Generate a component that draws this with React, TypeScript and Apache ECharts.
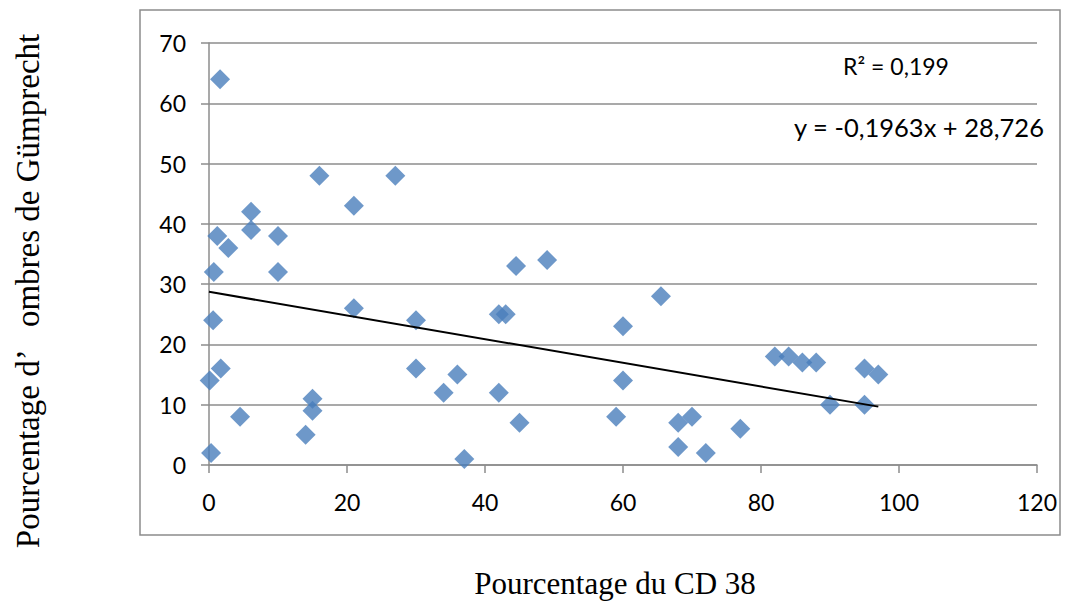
import React, { useEffect, useRef } from "react";
import * as echarts from "echarts";

const cd38: number[] = [0.3, 0.1, 0.6, 0.7, 1.2, 1.6, 1.7, 2.8, 4.5, 6.1, 6.1, 10, 10, 14, 15, 15, 16, 21, 21, 27, 30, 30, 34, 36, 37, 42, 42, 43, 44.5, 45, 49, 59, 60, 60, 65.5, 68, 68, 70, 72, 77, 82, 84, 86, 88, 90, 95, 95, 97];
const gumprecht: number[] = [2, 14, 24, 32, 38, 64, 16, 36, 8, 42, 39, 38, 32, 5, 9, 11, 48, 43, 26, 48, 24, 16, 12, 15, 1, 12, 25, 25, 33, 7, 34, 8, 23, 14, 28, 7, 3, 8, 2, 6, 18, 18, 17, 17, 10, 16, 10, 15];
const slope = -0.1963;
const intercept = 28.726;
const xTicks = [0, 20, 40, 60, 80, 100, 120];
const yTicks = [0, 10, 20, 30, 40, 50, 60, 70];
const r2Label = "R² = 0,199";
const eqLabel = "y = -0,1963x + 28,726";
const xTitle = "Pourcentage du CD 38";
const yTitle = "Pourcentage d’   ombres de Gümprecht";

export default function App() {
  const ref = useRef<HTMLDivElement>(null);
  useEffect(() => {
    if (!ref.current) return;
    const chart = echarts.init(ref.current, undefined, { renderer: "svg" });
    const xStart = 0;
    const xEnd = Math.max(...cd38);
    const trend = [
      [xStart, slope * xStart + intercept],
      [xEnd, slope * xEnd + intercept],
    ];
    const gridColor = "#8c8c8c";
    chart.setOption({
      animation: false,
      backgroundColor: "#ffffff",
      grid: { left: 209, right: 39, top: 43, bottom: 137, containLabel: false },
      xAxis: {
        type: "value",
        min: xTicks[0],
        max: xTicks[xTicks.length - 1],
        interval: 20,
        axisLine: { show: true, onZero: false, lineStyle: { color: gridColor, width: 1.5 } },
        axisTick: { show: true, length: 8, lineStyle: { color: gridColor, width: 1.5 } },
        splitLine: { show: false },
        axisLabel: { color: "#000", fontFamily: "Lato", fontSize: 23, margin: 25 },
      },
      yAxis: {
        type: "value",
        min: yTicks[0],
        max: yTicks[yTicks.length - 1],
        interval: 10,
        axisLine: { show: true, lineStyle: { color: gridColor, width: 1.5 } },
        axisTick: { show: true, length: 8, lineStyle: { color: gridColor, width: 1.5 } },
        splitLine: { show: true, lineStyle: { color: gridColor, width: 1.5 } },
        axisLabel: { color: "#000", fontFamily: "Lato", fontSize: 23, margin: 23 },
      },
      series: [
        {
          type: "scatter",
          symbol: "diamond",
          symbolSize: 20,
          itemStyle: { color: "#4a7ebb" },
          data: cd38.map((x, i) => [x, gumprecht[i]]),
          z: 3,
        },
        {
          type: "line",
          data: trend,
          symbol: "none",
          lineStyle: { color: "#000", width: 2 },
          z: 4,
        },
      ],
      graphic: [
        {
          type: "rect",
          shape: { x: 140, y: 10, width: 920, height: 525 },
          style: { fill: "none", stroke: "#8c8c8c", lineWidth: 1.5 },
          silent: true,
        },
        {
          type: "text",
          x: 896,
          y: 66,
          style: { text: r2Label, fontFamily: "Lato", fontSize: 23, fill: "#000", align: "center", verticalAlign: "middle" },
        },
        {
          type: "text",
          x: 919,
          y: 127,
          style: { text: eqLabel, fontFamily: "Lato", fontSize: 25.5, fill: "#000", align: "center", verticalAlign: "middle" },
        },
        {
          type: "text",
          x: 615,
          y: 583,
          style: { text: xTitle, fontFamily: "Liberation Serif", fontSize: 31, fill: "#000", align: "center", verticalAlign: "middle" },
        },
        {
          type: "text",
          x: 28,
          y: 291,
          rotation: Math.PI / 2,
          style: { text: yTitle, fontFamily: "Liberation Serif", fontSize: 33, fill: "#000", align: "center", verticalAlign: "middle" },
        },
      ],
    });
    return () => chart.dispose();
  }, []);
  return <div ref={ref} style={{ position: "fixed", left: 0, top: 0, width: 1076, height: 602 }} />;
}
